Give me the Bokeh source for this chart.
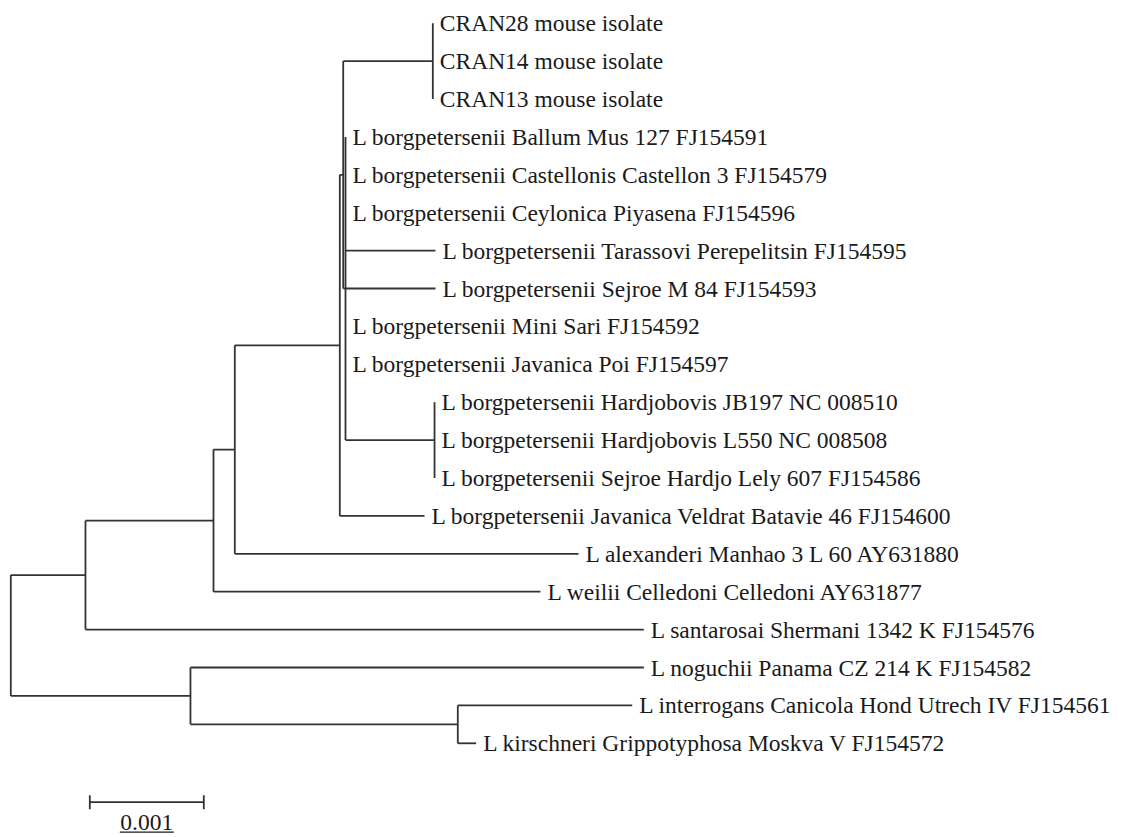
from bokeh.plotting import figure
from bokeh.models import Range1d, ColumnDataSource
from bokeh.embed import file_html
from bokeh.resources import INLINE
from bokeh.core.properties import value

# ---------------- data ----------------
leaf_labels = [
    "CRAN28 mouse isolate",
    "CRAN14 mouse isolate",
    "CRAN13 mouse isolate",
    "L borgpetersenii Ballum Mus 127 FJ154591",
    "L borgpetersenii Castellonis Castellon 3 FJ154579",
    "L borgpetersenii Ceylonica Piyasena FJ154596",
    "L borgpetersenii Tarassovi Perepelitsin FJ154595",
    "L borgpetersenii Sejroe M 84 FJ154593",
    "L borgpetersenii Mini Sari FJ154592",
    "L borgpetersenii Javanica Poi FJ154597",
    "L borgpetersenii Hardjobovis JB197 NC 008510",
    "L borgpetersenii Hardjobovis L550 NC 008508",
    "L borgpetersenii Sejroe Hardjo Lely 607 FJ154586",
    "L borgpetersenii Javanica Veldrat Batavie 46 FJ154600",
    "L alexanderi Manhao 3 L 60 AY631880",
    "L weilii Celledoni Celledoni AY631877",
    "L santarosai Shermani 1342 K FJ154576",
    "L noguchii Panama CZ 214 K FJ154582",
    "L interrogans Canicola Hond Utrech IV FJ154561",
    "L kirschneri Grippotyphosa Moskva V FJ154572",
]
leaf_parents = ["CRAN", "CRAN", "CRAN", "D", "D", "D", "D", "D", "D", "D",
                "HJ", "HJ", "HJ", "A", "X", "W", "U", "L", "IK", "IK"]
# distance from root (substitutions per site)
leaf_depths = [0.003702, 0.003702, 0.003702, 0.002936, 0.002936, 0.002936,
               0.003725, 0.003725, 0.002936, 0.002936, 0.003717, 0.003717,
               0.003717, 0.003629, 0.004980, 0.004646, 0.005553, 0.005553,
               0.005451, 0.004082]

node_ids = ["R", "U", "L", "W", "X", "A", "B", "D", "CRAN", "HJ", "IK"]
node_parents = [None, "R", "R", "U", "W", "X", "A", "B", "B", "D", "L"]
node_depths = [0.0, 0.000655, 0.001576, 0.001778, 0.001965, 0.002886,
               0.002916, 0.002936, 0.003702, 0.003717, 0.003921]

scale_length = 0.001
scale_label = "0.001"
scale_start = 0.000693

# ---------------- layout helpers ----------------
W, H = 1123, 837
PX_PER_UNIT = 114000.0
ROW_PX = 37.9
TOP_PX = 22.7
LEFT_PX = 10.3
FONT = "23.5px"

depth = {n: d for n, d in zip(node_ids, node_depths)}
parent = {n: p for n, p in zip(node_ids, node_parents)}
children = {n: [] for n in node_ids}
leaf_y = {}
for i, (lab, par, d) in enumerate(zip(leaf_labels, leaf_parents, leaf_depths)):
    key = "leaf%d" % i
    depth[key] = d
    parent[key] = par
    leaf_y[key] = float(i)
    children[par].append(key)
for n, p in zip(node_ids, node_parents):
    if p is not None:
        children[p].append(n)

ypos = dict(leaf_y)


def node_y(n):
    if n in ypos:
        return ypos[n]
    ys = [node_y(c) for c in children[n]]
    ypos[n] = (min(ys) + max(ys)) / 2.0
    return ypos[n]


for n in node_ids:
    node_y(n)

hx0, hx1, hy = [], [], []
for c, p in parent.items():
    if p is None:
        continue
    hx0.append(depth[p]); hx1.append(depth[c]); hy.append(ypos[c])
vx, vy0, vy1 = [], [], []
for n in node_ids:
    ys = [ypos[c] for c in children[n]]
    vx.append(depth[n]); vy0.append(min(ys)); vy1.append(max(ys))

x_start = -LEFT_PX / PX_PER_UNIT
x_end = (W - LEFT_PX) / PX_PER_UNIT
y_top = -TOP_PX / ROW_PX
y_bottom = (H - TOP_PX) / ROW_PX

p = figure(width=W, height=H, output_backend="svg", toolbar_location=None,
           x_range=Range1d(x_start, x_end), y_range=Range1d(y_bottom, y_top),
           min_border=0, outline_line_color=None)
p.xaxis.visible = False
p.yaxis.visible = False
p.grid.visible = False
p.background_fill_color = "white"
p.border_fill_color = "white"

LINE_COLOR = "#333333"
LW = 1.8
p.segment(x0=hx0, y0=hy, x1=hx1, y1=hy, line_color=LINE_COLOR, line_width=LW)
p.segment(x0=vx, y0=vy0, x1=vx, y1=vy1, line_color=LINE_COLOR, line_width=LW)

src = ColumnDataSource(dict(x=leaf_depths, y=[float(i) for i in range(len(leaf_labels))],
                            t=leaf_labels))
p.text(x="x", y="y", text="t", source=src, x_offset=7,
       text_font=value("Liberation Serif"), text_font_size=FONT,
       text_baseline="middle", text_align="left", text_color="#1a1a1a")

# scale bar
sb_row = (801.7 - TOP_PX) / ROW_PX
tick = 7.0 / ROW_PX
sx0, sx1 = scale_start, scale_start + scale_length
p.segment(x0=[sx0, sx0, sx1], y0=[sb_row, sb_row - tick, sb_row - tick],
          x1=[sx1, sx0, sx1], y1=[sb_row, sb_row + tick, sb_row + tick],
          line_color=LINE_COLOR, line_width=LW)
lab_row = sb_row + 20.0 / ROW_PX
p.text(x=[(sx0 + sx1) / 2], y=[lab_row], text=[scale_label],
       text_font=value("Liberation Serif"), text_font_size=FONT,
       text_baseline="middle", text_align="center", text_color="#1a1a1a")
ul_half = 27.0 / PX_PER_UNIT
ul_row = lab_row + 10.0 / ROW_PX
p.segment(x0=[(sx0 + sx1) / 2 - ul_half], y0=[ul_row], x1=[(sx0 + sx1) / 2 + ul_half],
          y1=[ul_row], line_color="#1a1a1a", line_width=1.2)

open("out.html", "w").write(file_html(p, INLINE))
